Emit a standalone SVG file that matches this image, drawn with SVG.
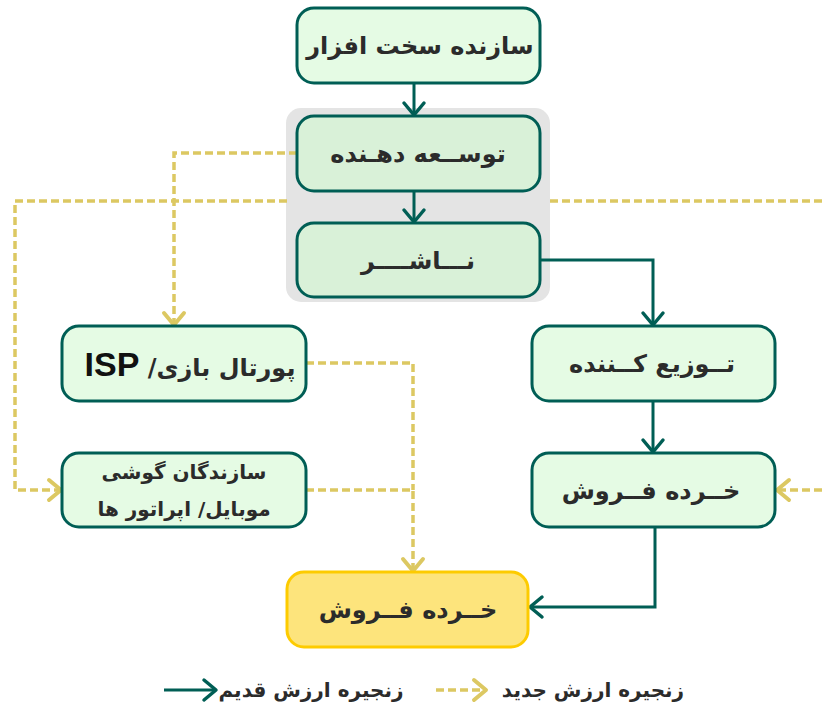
<svg xmlns="http://www.w3.org/2000/svg" width="822" height="703" viewBox="0 0 822 703">
  <defs>
    <style>
      .node { fill: #e5fbe4; stroke: #005e55; stroke-width: 3; }
      .inner { fill: #d9f1d8; stroke: #005e55; stroke-width: 3; }
      .retail { fill: #fde47c; stroke: #fdcb00; stroke-width: 3; }
      .label { font-family: "DejaVu Sans", sans-serif; font-weight: bold; font-size: 24px; fill: #2b2b2b; text-anchor: middle; direction: rtl; }
      .small { font-size: 20px; }
      .latin { font-family: "Liberation Sans", Arial, sans-serif; font-size: 34px; fill: #111; }
      .old { fill: none; stroke: #005e55; stroke-width: 3; marker-end: url(#headOld); }
      .new { fill: none; stroke: #dcc862; stroke-width: 3.5; stroke-dasharray: 8 4; }
      .new-arrow { marker-end: url(#headNew); }
    </style>
    <marker id="headOld" markerUnits="userSpaceOnUse" markerWidth="30" markerHeight="30" refX="0" refY="0" viewBox="-16 -15 20 30" orient="auto" overflow="visible">
      <path d="M-12,-10 L0,0 L-12,10" fill="none" stroke="#005e55" stroke-width="3.5" stroke-linejoin="round" stroke-linecap="round"/>
    </marker>
    <marker id="headNew" markerUnits="userSpaceOnUse" markerWidth="30" markerHeight="30" refX="0" refY="0" viewBox="-16 -15 20 30" orient="auto" overflow="visible">
      <path d="M-12,-10 L0,0 L-12,10" fill="none" stroke="#dcc862" stroke-width="4" stroke-linejoin="round" stroke-linecap="round"/>
    </marker>
  </defs>

  <rect width="822" height="703" fill="#ffffff"/>

  <!-- shaded block holding developer and publisher -->
  <rect id="core-block" x="286" y="108" width="264" height="194" rx="15" fill="#e4e4e4"/>

  <g id="connectors">
    <!-- traditional chain -->
    <path class="old" d="M414,83 V115"/>
    <path class="old" d="M414,191 V222"/>
    <path class="old" d="M540,260 H653 V325"/>
    <path class="old" d="M653,401 V452"/>
    <path class="old" d="M655,527 V607 H530"/>
    <!-- new chain -->
    <path class="new new-arrow" d="M297,153 H174 V325"/>
    <path class="new new-arrow" d="M287,201 H15 V490 H61"/>
    <path class="new" d="M550,201 H822"/>
    <path class="new new-arrow" d="M822,490 H777"/>
    <path class="new" d="M306,363 H413 V490"/>
    <path class="new new-arrow" d="M306,490 H413 V571"/>
  </g>

  <g id="hardware">
    <rect class="node" x="297" y="8" width="243" height="75" rx="17"/>
    <text class="label" x="420" y="54">سازنده سخت افزار</text>
  </g>

  <g id="developer">
    <rect class="inner" x="297" y="116" width="243" height="75" rx="17"/>
    <text class="label" x="418" y="162">توســعه دهـنده</text>
  </g>

  <g id="publisher">
    <rect class="inner" x="297" y="223" width="243" height="74" rx="17"/>
    <text class="label" x="418" y="269">نـــاشــــر</text>
  </g>

  <g id="distributor">
    <rect class="node" x="532" y="326" width="243" height="75" rx="17"/>
    <text class="label" x="652" y="372">تــوزیع کــننده</text>
  </g>

  <g id="retailer-old">
    <rect class="node" x="532" y="453" width="243" height="74" rx="17"/>
    <text class="label" x="651" y="499">خــرده فــروش</text>
  </g>

  <g id="portal">
    <rect class="node" x="62" y="326" width="244" height="75" rx="17"/>
    <text class="label" x="190" y="376">پورتال بازی/ <tspan class="latin">ISP</tspan></text>
  </g>

  <g id="mobile">
    <rect class="node" x="62" y="453" width="244" height="74" rx="17"/>
    <text class="label small" x="184" y="479">سازندگان گوشی</text>
    <text class="label small" x="184" y="516">موبایل/ اپراتور ها</text>
  </g>

  <g id="retailer-new">
    <rect class="retail" x="287" y="572" width="241" height="75" rx="17"/>
    <text class="label" x="408" y="618">خــرده فــروش</text>
  </g>

  <g id="legend">
    <path class="old" d="M164,690 H216"/>
    <text class="label small" x="311" y="697">زنجیره ارزش قدیم</text>
    <path class="new new-arrow" d="M436,690 H486"/>
    <text class="label small" x="593" y="697">زنجیره ارزش جدید</text>
  </g>
</svg>
